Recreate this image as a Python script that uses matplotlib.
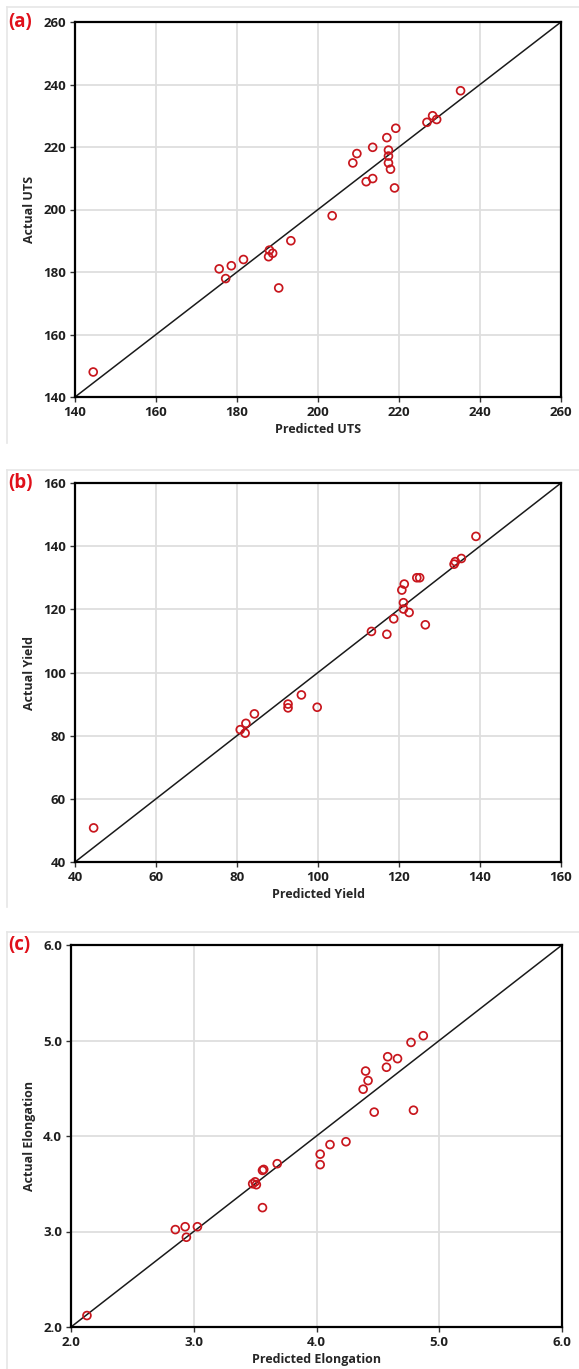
"""Predicted vs actual scatter plots for UTS, Yield and Elongation."""
import matplotlib.pyplot as plt
from matplotlib.lines import Line2D

# (a) UTS
uts_pred = [144.5, 175.6, 177.2, 178.6, 181.6, 187.8, 188.0, 188.8, 190.3, 193.3,
            203.5, 208.6, 209.6, 211.9, 213.5, 213.5, 217.0, 217.4, 217.4, 217.4,
            217.9, 218.9, 219.2, 226.9, 228.3, 229.3, 235.2]
uts_actual = [148.0, 181.0, 177.9, 182.0, 184.0, 184.9, 187.0, 186.0, 174.9, 190.0,
              198.0, 214.9, 217.9, 208.9, 209.9, 219.9, 223.0, 219.0, 217.1, 214.9,
              212.9, 206.9, 226.0, 227.9, 230.0, 228.8, 238.0]

# (b) Yield
yield_pred = [44.6, 80.8, 82.0, 82.2, 84.3, 92.6, 92.6, 95.9, 99.8, 113.2,
              117.0, 118.7, 121.1, 121.1, 122.5, 120.7, 121.3, 124.4, 125.1, 126.5,
              133.6, 133.9, 135.4, 139.0]
yield_actual = [50.8, 81.9, 80.8, 83.9, 86.9, 90.0, 88.8, 92.9, 89.0, 113.0,
                112.1, 117.0, 120.1, 122.1, 119.0, 126.1, 128.0, 130.0, 130.0, 115.1,
                134.3, 135.1, 136.1, 143.1]

# (c) Elongation
elong_pred = [2.13, 2.85, 2.93, 2.94, 3.03, 3.48, 3.50, 3.51, 3.56, 3.56,
              3.57, 3.68, 4.03, 4.03, 4.11, 4.24, 4.38, 4.40, 4.42, 4.47,
              4.57, 4.58, 4.66, 4.77, 4.79, 4.87]
elong_actual = [2.12, 3.02, 3.05, 2.94, 3.05, 3.50, 3.52, 3.49, 3.25, 3.64,
                3.65, 3.71, 3.70, 3.81, 3.91, 3.94, 4.49, 4.68, 4.58, 4.25,
                4.72, 4.83, 4.81, 4.98, 4.27, 5.05]

uts_ticks = [140, 160, 180, 200, 220, 240, 260]
yield_ticks = [40, 60, 80, 100, 120, 140, 160]
elong_ticks = [2.0, 3.0, 4.0, 5.0, 6.0]

FONT = 'Open Sans'
RED = '#c8161d'
W, H = 579, 1369


def rect_top_px(rect):
    return (1 - rect[1] - rect[3]) * H


def px_rect(left, top, right, bottom):
    return [left / W, 1 - bottom / H, (right - left) / W, (bottom - top) / H]


def draw_panel(fig, rect, x, y, ticks, fmt, xlabel, ylabel, tag):
    ax = fig.add_axes(rect)
    lo, hi = ticks[0], ticks[-1]
    ax.set_xlim(lo, hi)
    ax.set_ylim(lo, hi)
    ax.set_xticks(ticks)
    ax.set_yticks(ticks)
    ax.set_xticklabels([fmt.format(t) for t in ticks])
    ax.set_yticklabels([fmt.format(t) for t in ticks])
    ax.grid(True, color='#dedede', linewidth=1.3)
    ax.set_axisbelow(True)
    ax.plot([lo, hi], [lo, hi], color='#1a1a1a', linewidth=1.1, zorder=2)
    ax.scatter(x, y, s=32, facecolors='none', edgecolors=RED,
               linewidths=1.25, zorder=3)
    for sp in ax.spines.values():
        sp.set_linewidth(1.6)
        sp.set_color('black')
    ax.tick_params(direction='out', length=3.5, width=1, color='#333333',
                   pad=3, labelsize=9.5, labelcolor='#1f1f1f')
    for lab in ax.get_xticklabels() + ax.get_yticklabels():
        lab.set_fontfamily(FONT)
        lab.set_fontweight('bold')
    ax.set_xlabel(xlabel, fontsize=9, fontweight='bold', family=FONT,
                  color='#262626', labelpad=3)
    ax.set_ylabel(ylabel, fontsize=9, fontweight='bold', family=FONT,
                  color='#262626', labelpad=5)
    fig.text(8 / W, 1 - rect_top_px(rect) / H, tag, color='#e0101a',
             fontsize=13.5, fontweight='bold', family=FONT,
             ha='left', va='center')
    return ax


fig = plt.figure(figsize=(W / 100, H / 100), dpi=100)

# light frames of the pasted panels
for top, bottom in [(7, 443), (470, 907), (932, 1369)]:
    fig.add_artist(Line2D([7 / W, 7 / W], [1 - top / H, 1 - bottom / H],
                          color='#e6e6e6', linewidth=1.2))
    fig.add_artist(Line2D([7 / W, 1], [1 - top / H, 1 - top / H],
                          color='#e6e6e6', linewidth=1.2))

draw_panel(fig, px_rect(75, 22, 561, 397), uts_pred, uts_actual, uts_ticks,
           '{:.0f}', 'Predicted UTS', 'Actual UTS', '(a)')
draw_panel(fig, px_rect(75, 483, 561, 862), yield_pred, yield_actual, yield_ticks,
           '{:.0f}', 'Predicted Yield', 'Actual Yield', '(b)')
draw_panel(fig, px_rect(71, 945, 562, 1327), elong_pred, elong_actual, elong_ticks,
           '{:.1f}', 'Predicted Elongation', 'Actual Elongation', '(c)')

fig.savefig('out.png', dpi=100, facecolor='white')
plt.close(fig)
